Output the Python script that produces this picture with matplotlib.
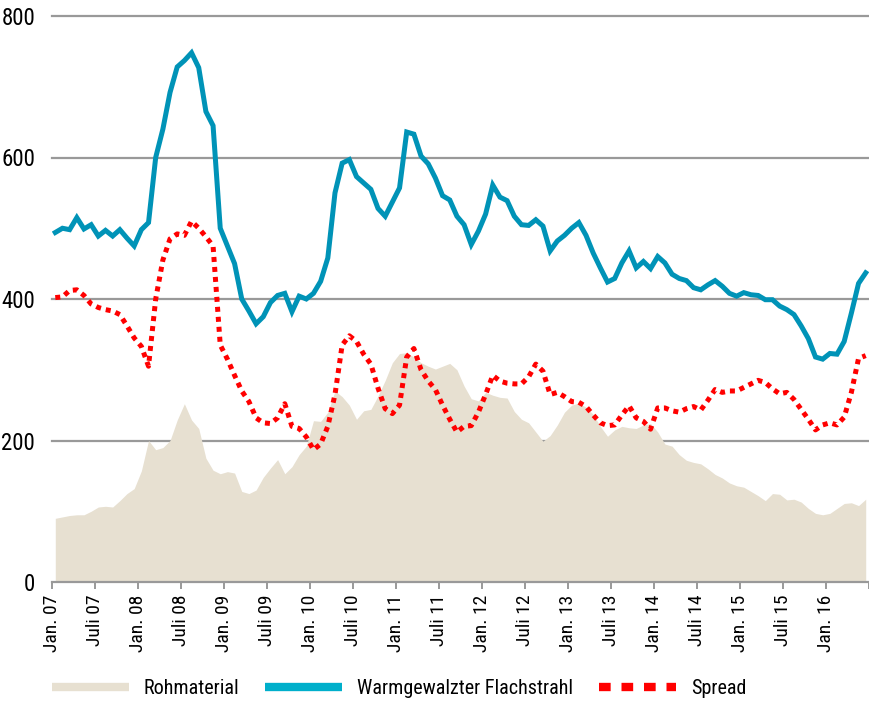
import matplotlib
matplotlib.use("Agg")
import matplotlib.pyplot as plt
from matplotlib import font_manager as fm
from matplotlib.lines import Line2D
import numpy as np

# pick a narrow sans face if one is installed
narrow = None
for pref in ['Liberation Sans Narrow', 'Roboto Condensed', 'DejaVu Sans Condensed', 'Open Sans Condensed', 'Noto Sans Condensed']:
    for f in fm.fontManager.ttflist:
        full = f.name + ' ' + f.fname
        if (pref.replace(' ', '').lower() in full.replace(' ', '').lower() or
                (f.name == pref.rsplit(' ', 1)[0] and f.stretch == 'condensed')) \
                and f.weight in (400, 'normal', 'regular') and f.style == 'normal':
            narrow = f.fname
            break
    if narrow:
        break
fp = fm.FontProperties(fname=narrow) if narrow else fm.FontProperties(family='DejaVu Sans')

# monthly values, Jan 2007 .. Jun 2016
rohmaterial = [90, 92, 94, 95, 95, 100, 106, 107, 106, 115, 125, 132, 157, 200, 187, 190,
               200, 229, 252, 229, 217, 175, 158, 153, 156, 154, 128, 125, 130, 148, 161, 173,
               153, 163, 180, 192, 228, 227, 240, 270, 262, 250, 230, 242, 244, 263, 285, 310,
               323, 324, 318, 310, 305, 301, 305, 309, 300, 277, 259, 256, 268, 264, 261, 260,
               241, 230, 225, 212, 199, 207, 222, 240, 250, 253, 247, 237, 220, 206, 215, 220,
               218, 217, 222, 224, 212, 195, 192, 180, 172, 169, 167, 160, 152, 147, 140, 136,
               134, 128, 122, 115, 125, 124, 116, 117, 113, 104, 97, 95, 97, 104, 111, 112,
               108, 117]

flachstahl = [494, 500, 498, 515, 499, 505, 489, 497, 489, 498, 486, 475, 498, 508, 600, 640,
              692, 728, 737, 748, 727, 665, 645, 500, 475, 450, 400, 383, 365, 375, 395, 405,
              408, 382, 404, 400, 408, 425, 458, 550, 592, 597, 573, 564, 555, 528, 517, 537,
              557, 636, 633, 602, 591, 571, 546, 540, 517, 505, 477, 496, 520, 561, 544, 539,
              517, 505, 504, 512, 503, 468, 482, 490, 500, 508, 490, 465, 444, 424, 429, 451,
              468, 444, 453, 443, 460, 451, 435, 429, 426, 416, 413, 420, 426, 418, 408, 404,
              409, 406, 405, 399, 399, 390, 385, 378, 362, 344, 318, 315, 323, 322, 340, 380,
              422, 437]

spread = [402, 403, 412, 413, 405, 393, 388, 385, 383, 378, 362, 345, 333, 305, 400, 455,
          485, 492, 490, 510, 500, 488, 475, 335, 315, 292, 270, 255, 232, 225, 224, 232,
          252, 220, 217, 205, 187, 195, 220, 265, 335, 348, 340, 322, 308, 274, 245, 238,
          250, 318, 330, 300, 284, 272, 250, 230, 212, 220, 221, 240, 265, 292, 284, 281,
          280, 280, 290, 308, 298, 265, 268, 262, 255, 254, 248, 236, 225, 221, 222, 236,
          249, 232, 227, 216, 246, 246, 242, 240, 245, 248, 243, 257, 272, 268, 270, 270,
          275, 280, 285, 282, 273, 266, 268, 258, 244, 230, 215, 222, 225, 222, 233, 268,
          316, 320]

tick_labels = ['Jan. 07', 'Juli 07', 'Jan. 08', 'Juli 08', 'Jan. 09', 'Juli 09', 'Jan. 10',
               'Juli 10', 'Jan. 11', 'Juli 11', 'Jan. 12', 'Juli 12', 'Jan. 13', 'Juli 13',
               'Jan. 14', 'Juli 14', 'Jan. 15', 'Juli 15', 'Jan. 16', '']

beige = '#E7E0D1'
blue = '#0093B7'
red = '#FF0000'
grey = '#999999'

x = np.arange(len(rohmaterial)) + 0.5

fig = plt.figure(figsize=(8.7, 7.03), dpi=100)
ax = fig.add_axes([51.7 / 870, 121 / 703, 817.6 / 870, 566 / 703])

for v in [200, 400, 600, 800]:
    ax.axhline(v, color=grey, lw=1.6, zorder=0, clip_on=False)

ax.fill_between(x, 0, rohmaterial, color=beige, lw=0, zorder=1)
ax.plot(x, flachstahl, color=blue, lw=3.6, zorder=3, solid_joinstyle='miter')
ax.plot(x, spread, color=red, lw=3.6, linestyle=(0, (1, 1)), dash_capstyle='butt', zorder=4)

ax.set_xlim(0, 114)
ax.set_ylim(0, 800)
ax.set_xticks(np.arange(0, 115, 6))
ax.set_xticklabels(tick_labels, rotation=90, fontproperties=fp, fontsize=14)
ax.set_yticks([0, 200, 400, 600, 800])
ax.set_yticklabels(['0', '200', '400', '600', '800'], fontproperties=fp, fontsize=16.5)

for s in ['top', 'right', 'left']:
    ax.spines[s].set_visible(False)
ax.spines['bottom'].set_color(grey)
ax.spines['bottom'].set_linewidth(1.6)
ax.tick_params(axis='x', length=5, width=1.4, color=grey, pad=4)
ax.tick_params(axis='y', length=0, pad=12)

handles = [
    Line2D([], [], color=beige, lw=6, solid_capstyle='butt'),
    Line2D([], [], color='#00AFCB', lw=6, solid_capstyle='butt'),
    Line2D([], [], color=red, lw=6, linestyle=(0, (1.4, 1.3)), dash_capstyle='butt'),
]
leg_fp = fp.copy()
leg_fp.set_size(14.5)
fig.legend(handles, ['Rohmaterial', 'Warmgewalzter Flachstrahl', 'Spread'],
           loc='center left', bbox_to_anchor=(52 / 870, 14 / 703), ncol=3, frameon=False,
           prop=leg_fp, handlelength=3.8, handletextpad=0.75, columnspacing=1.3,
           borderpad=0, borderaxespad=0)

fig.savefig('out.png', dpi=100)
